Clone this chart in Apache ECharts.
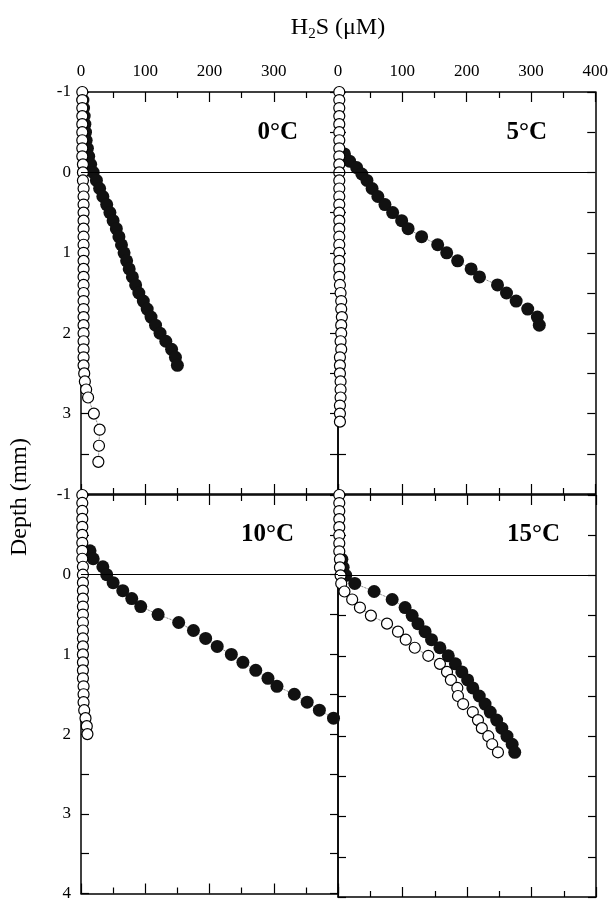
<!DOCTYPE html>
<html>
<head>
<meta charset="utf-8">
<title>H2S depth profiles</title>
<script src="https://cdn.jsdelivr.net/npm/echarts/dist/echarts.min.js"></script>
<style>
  html, body { margin: 0; padding: 0; background: #fff; }
  #chart { width: 611px; height: 902px; }
</style>
</head>
<body>
<div id="chart"></div>
<script>
// tick values
var h2sTicks = [0, 100, 200, 300, 400];
var depthTicks = [-1, 0, 1, 2, 3, 4];
var panelLabels = ['0°C', '5°C', '10°C', '15°C'];

// 0°C
var depthFilled0 = [-0.9,-0.8,-0.7,-0.6,-0.5,-0.4,-0.3,-0.2,-0.1,0,0.1,0.2,0.3,0.4,0.5,0.6,0.7,0.8,0.9,1.0,1.1,1.2,1.3,1.4,1.5,1.6,1.7,1.8,1.9,2.0,2.1,2.2,2.3,2.4];
var h2sFilled0   = [3,4,5,6,7,8,10,12,15,19,24,29,34,40,45,50,55,59,63,67,71,75,80,85,90,97,103,109,116,123,132,141,147,150];
var depthOpen0 = [-1.0,-0.9,-0.8,-0.7,-0.6,-0.5,-0.4,-0.3,-0.2,-0.1,0,0.1,0.2,0.3,0.4,0.5,0.6,0.7,0.8,0.9,1.0,1.1,1.2,1.3,1.4,1.5,1.6,1.7,1.8,1.9,2.0,2.1,2.2,2.3,2.4,2.5,2.6,2.7,2.8,3.0,3.2,3.4,3.6];
var h2sOpen0   = [2,2,2,2,2,2,2,2,2,3,3,3,4,4,4,4,4,4,4,4,4,4,4,4,4,4,4,4,4,4,4,4,4,4,4,5,6,8,11,20,29,28,27];

// 5°C
var depthFilled5 = [-0.23,-0.14,-0.06,0.02,0.1,0.2,0.3,0.4,0.5,0.6,0.7,0.8,0.9,1.0,1.1,1.2,1.3,1.4,1.5,1.6,1.7,1.8,1.9];
var h2sFilled5   = [10,18,29,37,45,53,62,73,85,99,109,130,155,169,186,207,220,248,262,277,295,310,313];
var depthOpen5 = [-1.0,-0.9,-0.8,-0.7,-0.6,-0.5,-0.4,-0.3,-0.2,-0.1,0,0.1,0.2,0.3,0.4,0.5,0.6,0.7,0.8,0.9,1.0,1.1,1.2,1.3,1.4,1.5,1.6,1.7,1.8,1.9,2.0,2.1,2.2,2.3,2.4,2.5,2.6,2.7,2.8,2.9,3.0,3.1];
var h2sOpen5   = [2,2,2,2,2,2,2,2,2,2,2,2,2,2,2,2,2,2,2,2,2,2,2,2,3,4,5,5,6,5,5,4,5,3,3,3,4,4,4,3,3,3];

// 10°C
var depthFilled10 = [-0.3,-0.2,-0.1,0,0.1,0.2,0.3,0.4,0.5,0.6,0.7,0.8,0.9,1.0,1.1,1.2,1.3,1.4,1.5,1.6,1.7,1.8];
var h2sFilled10   = [14,19,34,40,50,65,79,93,120,152,175,194,212,234,252,272,291,305,332,352,371,393];
var depthOpen10 = [-1.0,-0.9,-0.8,-0.7,-0.6,-0.5,-0.4,-0.3,-0.2,-0.1,0,0.1,0.2,0.3,0.4,0.5,0.6,0.7,0.8,0.9,1.0,1.1,1.2,1.3,1.4,1.5,1.6,1.7,1.8,1.9,2.0];
var h2sOpen10   = [2,2,2,2,2,2,2,2,2,3,3,3,3,3,3,3,3,3,3,3,3,3,3,3,4,4,4,5,7,9,10];

// 15°C
var depthFilled15 = [-0.2,-0.1,0,0.1,0.2,0.3,0.4,0.5,0.6,0.7,0.8,0.9,1.0,1.1,1.2,1.3,1.4,1.5,1.6,1.7,1.8,1.9,2.0,2.1,2.2];
var h2sFilled15   = [6,8,12,26,56,84,104,115,124,135,145,158,171,182,192,201,209,219,228,236,246,254,262,270,274];
var depthOpen15 = [-1.0,-0.9,-0.8,-0.7,-0.6,-0.5,-0.4,-0.3,-0.2,-0.1,0,0.1,0.2,0.3,0.4,0.5,0.6,0.7,0.8,0.9,1.0,1.1,1.2,1.3,1.4,1.5,1.6,1.7,1.8,1.9,2.0,2.1,2.2];
var h2sOpen15   = [2,2,2,2,2,2,2,2,3,3,4,5,10,22,34,51,76,93,105,119,140,158,169,175,185,186,194,209,217,223,233,239,248];

var panels = [
    { filled: [h2sFilled0, depthFilled0], open: [h2sOpen0, depthOpen0] },
    { filled: [h2sFilled5, depthFilled5], open: [h2sOpen5, depthOpen5] },
    { filled: [h2sFilled10, depthFilled10], open: [h2sOpen10, depthOpen10] },
    { filled: [h2sFilled15, depthFilled15], open: [h2sOpen15, depthOpen15] }
];

function pairs(xs, ys) {
    var out = [];
    for (var i = 0; i < xs.length; i++) out.push([xs[i], ys[i]]);
    return out;
}

var serif = 'Liberation Serif';
var grids = [
    { left: 81, top: 92, width: 257, height: 402 },
    { left: 338, top: 92, width: 258, height: 402 },
    { left: 81, top: 495, width: 257, height: 402 },
    { left: 338, top: 495, width: 258, height: 402 }
];
var axisLine = { show: true, onZero: false, lineStyle: { color: '#000', width: 1.5 } };

var xAxes = [], yAxes = [], series = [];
grids.forEach(function (g, i) {
    ['top', 'bottom'].forEach(function (pos) {
        xAxes.push({
            type: 'value', gridIndex: i, position: pos,
            min: h2sTicks[0], max: h2sTicks[h2sTicks.length - 1], interval: 100,
            axisLine: axisLine,
            axisTick: { show: true, inside: true, length: 10, lineStyle: { color: '#000', width: 1.2 } },
            minorTick: { show: true, splitNumber: 2, length: 6, lineStyle: { color: '#000', width: 1.2 } },
            splitLine: { show: false },
            axisLabel: {
                show: pos === 'top' && i < 2, margin: 12,
                color: '#000', fontFamily: serif, fontSize: 17,
                formatter: function (v) { return (i === 0 && v === 400) ? '' : String(v); }
            }
        });
    });
    ['left', 'right'].forEach(function (pos) {
        yAxes.push({
            type: 'value', gridIndex: i, position: pos, inverse: true,
            min: depthTicks[0], max: depthTicks[depthTicks.length - 1], interval: 0.5,
            axisLine: axisLine,
            axisTick: { show: true, inside: true, length: 8, lineStyle: { color: '#000', width: 1.2 } },
            splitLine: { show: false },
            axisLabel: {
                show: pos === 'left' && i % 2 === 0, margin: 10,
                color: '#000', fontFamily: serif, fontSize: 17,
                formatter: function (v) {
                    if (v % 1 !== 0) return '';
                    if (i === 0 && v === 4) return '';
                    return String(v);
                }
            }
        });
    });
    var p = panels[i];
    series.push({
        type: 'line', xAxisIndex: i * 2, yAxisIndex: i * 2, clip: false,
        data: pairs(p.filled[0], p.filled[1]),
        symbol: 'circle', symbolSize: 13, showSymbol: true,
        itemStyle: { color: '#111' },
        lineStyle: { color: '#333', width: 0.8, type: 'dotted' },
        markLine: {
            silent: true, symbol: 'none', label: { show: false },
            lineStyle: { color: '#000', width: 1.2, type: 'solid' },
            data: [{ yAxis: 0 }]
        },
        z: 3
    });
    series.push({
        type: 'line', xAxisIndex: i * 2, yAxisIndex: i * 2, clip: false,
        data: pairs(p.open[0], p.open[1]),
        symbol: 'circle', symbolSize: 11, showSymbol: true,
        itemStyle: { color: '#fff', borderColor: '#000', borderWidth: 1.2 },
        lineStyle: { color: '#333', width: 0.8, type: 'dotted' },
        z: 4
    });
});

var labelPos = [[298, 133], [547, 133], [294, 535], [560, 535]];
var graphics = [
    {
        type: 'text', x: 338, y: 28,
        style: {
            text: '{a|H}{s|2}{a|S (μM)}', align: 'center', verticalAlign: 'middle',
            rich: {
                a: { fontSize: 24, fontFamily: serif, fill: '#000' },
                s: { fontSize: 15, fontFamily: serif, fill: '#000', padding: [12, 0, 0, 0] }
            }
        }
    },
    {
        type: 'text', x: 20, y: 497, rotation: Math.PI / 2,
        style: { text: 'Depth (mm)', align: 'center', verticalAlign: 'middle', fontSize: 24, fontFamily: serif, fill: '#000' }
    }
];
panelLabels.forEach(function (t, i) {
    graphics.push({
        type: 'text', x: labelPos[i][0], y: labelPos[i][1],
        style: { text: t, align: 'right', verticalAlign: 'middle', fontSize: 25, fontWeight: 'bold', fontFamily: serif, fill: '#000' }
    });
});

var myChart = echarts.init(document.getElementById('chart'));
myChart.setOption({
    animation: false,
    backgroundColor: '#fff',
    grid: grids,
    xAxis: xAxes,
    yAxis: yAxes,
    series: series,
    graphic: graphics
});
</script>
</body>
</html>
